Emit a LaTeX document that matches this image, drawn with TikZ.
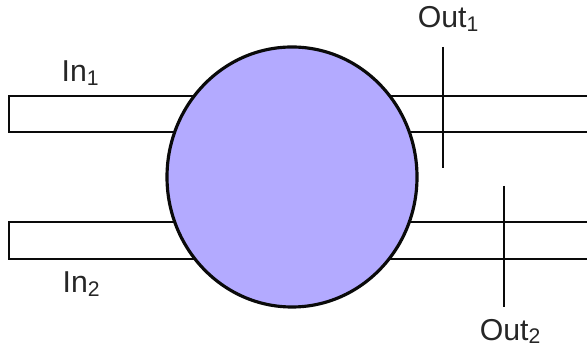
\documentclass[tikz,border=0pt]{standalone}
\usepackage{fontspec}
\setmainfont{Liberation Sans}
\usepackage{xcolor}
\definecolor{lavande}{RGB}{179,170,255}
\definecolor{trait}{RGB}{10,10,10}
\usepackage{tikz}
\usetikzlibrary{shapes.geometric, positioning, calc}

\begin{document}
\begin{tikzpicture}[
    tube/.style={draw=trait, line width=0.75pt},
    coupe/.style={draw=trait, line width=0.75pt},
    etiquette/.style={font=\fontsize{8.6}{10}\selectfont, text=black!85, anchor=base, inner sep=0pt}
]
        \useasboundingbox (0, 0) rectangle (5.87, 3.47);

        % Tubes d'entree / sortie
        \draw[tube] (5.87, 2.51) -- (0.09, 2.51) -- (0.09, 2.15) -- (5.87, 2.15);
        \draw[tube] (5.87, 1.25) -- (0.09, 1.25) -- (0.09, 0.88) -- (5.87, 0.88);

        % Melangeur central
        \node[ellipse, draw=trait, line width=0.9pt, fill=lavande, minimum width=2.5cm, minimum height=2.6cm, inner sep=0pt] (coeur) at (2.92, 1.70) {};

        % Sections de sortie
        \coordinate (o1haut) at (4.43, 3.00);
        \coordinate (o1bas) at (4.43, 1.79);
        \coordinate (o2haut) at (5.04, 1.61);
        \coordinate (o2bas) at (5.04, 0.40);
        \draw[coupe] (o1haut) -- (o1bas);
        \draw[coupe] (o2haut) -- (o2bas);

        % Labels
        \node[etiquette] (in1) at (0.81, 2.65) {In\textsubscript{1}};
        \node[etiquette] (in2) at (0.82, 0.54) {In\textsubscript{2}};
        \node[etiquette] (out1) at (4.49, 3.19) {Out\textsubscript{1}};
        \node[etiquette] (out2) at (5.11, 0.07) {Out\textsubscript{2}};
    \end{tikzpicture}
\end{document}
